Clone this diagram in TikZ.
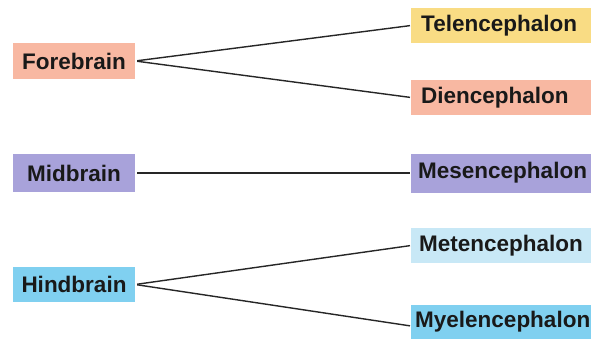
\documentclass[tikz,border=0pt]{standalone}
\usepackage{fontspec}
\setmainfont{Liberation Sans}
\definecolor{salmon}{HTML}{F8B8A2}
\definecolor{yel}{HTML}{F9DC84}
\definecolor{lav}{HTML}{A8A2DA}
\definecolor{paleblue}{HTML}{C8E8F6}
\definecolor{skyblue}{HTML}{80D0F0}
\begin{document}
\begin{tikzpicture}[x=1pt,y=-1pt,
  lbox/.style={rectangle, minimum width=122pt, minimum height=36pt, inner sep=0pt,
    font=\fontsize{22.5}{24}\selectfont\bfseries, text=black!90},
  rbox/.style={rectangle, anchor=west, text width=174pt, inner xsep=4pt, inner ysep=0pt,
    minimum height=35pt, align=left, font=\fontsize{22.5}{24}\selectfont\bfseries, text=black!90},
  link/.style={draw=black!85, line width=1.4pt, shorten <=2pt, shorten >=1pt}]
\useasboundingbox (0,0) rectangle (591,338);
\fill[white] (0,0) rectangle (591,338);
\node[lbox, fill=salmon] (fore) at (74,61) {Forebrain};
\node[lbox, fill=lav, minimum height=38pt] (mid) at (74,173) {Midbrain};
\node[lbox, fill=skyblue, minimum height=35pt] (hind) at (74,284.5) {Hindbrain};
\node[rbox, fill=yel] (tel) at (411,25.5) {\hspace*{6pt}Telencephalon};
\node[rbox, fill=salmon] (die) at (411,97.5) {\hspace*{6pt}Diencephalon};
\node[rbox, fill=lav, minimum height=39pt] (mes) at (411,173) {\hspace*{3pt}Mesencephalon};
\node[rbox, fill=paleblue] (met) at (411,245.5) {\hspace*{4pt}Metencephalon};
\node[rbox, fill=skyblue, minimum height=34pt] (mye) at (411,322) {Myelencephalon};
\coordinate (myein) at ([yshift=-4pt]mye.west);
\draw[link] (fore.east) -- (tel.west);
\draw[link] (fore.east) -- (die.west);
\draw[link] (mid.east) -- (mes.west);
\draw[link] (hind.east) -- (met.west);
\draw[link] (hind.east) -- (myein);
\end{tikzpicture}
\end{document}
